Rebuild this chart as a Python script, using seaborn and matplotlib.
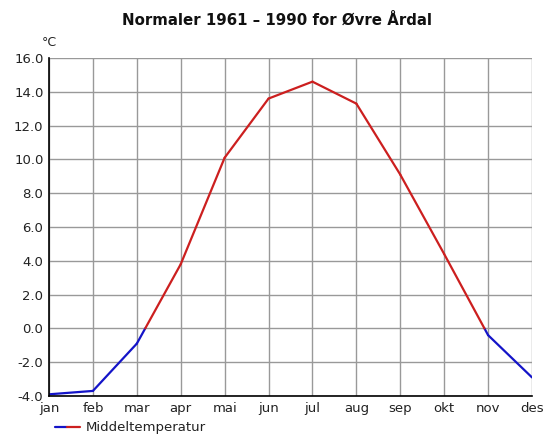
import numpy as np
import pandas as pd
import matplotlib
matplotlib.use("Agg")
import matplotlib.pyplot as plt
import seaborn as sns
from matplotlib.lines import Line2D

# Monthly normal temperatures, Øvre Årdal 1961-1990
months = ["jan", "feb", "mar", "apr", "mai", "jun",
          "jul", "aug", "sep", "okt", "nov", "des"]
temps = [-3.9, -3.7, -0.9, 3.8, 10.1, 13.6, 14.6, 13.3, 9.1, 4.4, -0.4, -2.9]

# Split the line at zero so positive parts are red, negative parts blue
rows = []
seg = 0
for i in range(len(temps) - 1):
    x0, x1, y0, y1 = i, i + 1, temps[i], temps[i + 1]
    if (y0 < 0) != (y1 < 0):
        xc = x0 + (0 - y0) / (y1 - y0)
        pieces = [(x0, y0, xc, 0.0), (xc, 0.0, x1, y1)]
    else:
        pieces = [(x0, y0, x1, y1)]
    for a, b, c, d in pieces:
        sign = "pos" if (b + d) / 2 >= 0 else "neg"
        rows.append({"x": a, "y": b, "seg": seg, "sign": sign})
        rows.append({"x": c, "y": d, "seg": seg, "sign": sign})
        seg += 1
df = pd.DataFrame(rows)

sns.set_theme(style="white")
plt.rcParams['font.family'] = ['DejaVu Sans']

fig = plt.figure(figsize=(5.46, 4.34), dpi=100)
ax = fig.add_axes([49 / 546, 38 / 434, 483 / 546, 338 / 434])

palette = {"pos": "#cc1f1f", "neg": "#1414c8"}
sns.lineplot(data=df, x="x", y="y", hue="sign", units="seg", estimator=None,
             palette=palette, linewidth=1.6, legend=False, ax=ax, sort=False)

ax.set_xlim(0, 11)
ax.set_ylim(-4, 16)
ax.set_xticks(range(12))
ax.set_xticklabels(months)
ax.set_yticks(np.arange(-4, 16.1, 2))
ax.set_yticklabels([f"{v:.1f}" for v in np.arange(-4, 16.1, 2)])
ax.set_xlabel("")
ax.set_ylabel("")
ax.grid(True, color="#999999", linewidth=1.0)
ax.set_axisbelow(True)
for s in ["top", "right"]:
    ax.spines[s].set_visible(False)
for s in ["left", "bottom"]:
    ax.spines[s].set_color("black")
    ax.spines[s].set_linewidth(1.2)
ax.tick_params(axis="both", direction="inout", length=6, width=1, color="black",
               labelsize=9.5, labelcolor="#222222", pad=1)

fig.text(0.508, 0.955, "Normaler 1961 – 1990 for Øvre Årdal", ha="center", va="center",
         fontsize=10.8, fontweight="semibold", color="#111111")
fig.text(42 / 546, 1 - 42 / 434, "°C", ha="left", va="center", fontsize=9, color="#222222")

# legend at the bottom edge
fig.add_artist(Line2D([55 / 546, 67 / 546], [1 - 427 / 434] * 2, color=palette["neg"], lw=1.6))
fig.add_artist(Line2D([67 / 546, 80 / 546], [1 - 427 / 434] * 2, color=palette["pos"], lw=1.6))
fig.text(86 / 546, 1 - 427 / 434, "Middeltemperatur", ha="left", va="center",
         fontsize=9.5, color="#222222")

fig.savefig("out.png", dpi=100)
